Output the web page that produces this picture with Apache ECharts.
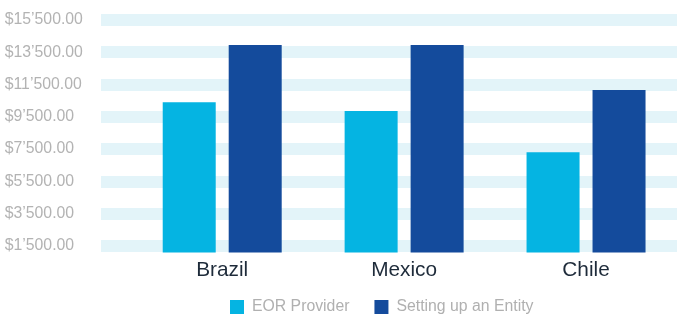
<!DOCTYPE html>
<html>
<head>
<meta charset="utf-8">
<script src="https://cdn.jsdelivr.net/npm/echarts@6/dist/echarts.min.js"></script>
<style>html,body{margin:0;padding:0;background:#fff}#c{width:677px;height:322px}</style>
</head>
<body>
<div id="c"></div>
<script>
const categories = ['Brazil', 'Mexico', 'Chile'];
const seriesNames = ['EOR Provider', 'Setting up an Entity'];
const eorValues = [10400, 9850, 7300];
const entityValues = [13950, 13950, 11150];
const tickValues = [1500, 3500, 5500, 7500, 9500, 11500, 13500, 15500];

const FONT = '"Liberation Sans", Arial, Helvetica, sans-serif';
function fmt(v) {
  const s = String(Math.round(v));
  const th = s.length > 3 ? s.slice(0, s.length - 3) + '\u2019' + s.slice(-3) : s;
  return '$' + th + '.00';
}

const chart = echarts.init(document.getElementById('c'), null, {renderer: 'canvas'});
chart.setOption({
  animation: false,
  textStyle: {fontFamily: FONT},
  grid: [
    {left: 131.25, right: -1.75, top: 19.85, bottom: 69.6},
    {left: 101, right: 0, top: 19.85, bottom: 43.75}
  ],
  legend: {
    data: seriesNames,
    left: 225,
    top: 294,
    itemWidth: 14,
    itemHeight: 14,
    itemGap: 25,
    icon: 'rect',
    textStyle: {color: '#b0b0b0', fontSize: 15.8, fontFamily: FONT, padding: [0, 0, 0, 3]}
  },
  xAxis: [
    {
      type: 'category', gridIndex: 0, data: categories,
      axisLine: {show: false}, axisTick: {show: false},
      axisLabel: {color: '#1e2b3a', fontSize: 20.8, lineHeight: 21, margin: 7, fontFamily: FONT}
    },
    {type: 'value', gridIndex: 1, min: 0, max: 1, show: false}
  ],
  yAxis: [
    {
      type: 'value', gridIndex: 0, min: 1100, max: 15500,
      axisLine: {show: false}, axisTick: {show: false},
      axisLabel: {show: false}, splitLine: {show: false}
    },
    {
      type: 'value', gridIndex: 1, min: -500, max: 15500, interval: 2000,
      axisLine: {show: false}, axisTick: {show: false},
      axisLabel: {
        color: '#b3b3b3', fontSize: 15.8, fontFamily: FONT, align: 'left', margin: 96.3,
        showMinLabel: false, formatter: fmt
      },
      splitLine: {show: true, showMinLine: false, lineStyle: {color: '#e3f4f9', width: 12}}
    }
  ],
  series: [
    {
      name: seriesNames[0], type: 'bar', xAxisIndex: 0, yAxisIndex: 0,
      data: eorValues, barWidth: 53, barGap: '24.5%',
      itemStyle: {color: '#05b4e2'}, z: 3
    },
    {
      name: seriesNames[1], type: 'bar', xAxisIndex: 0, yAxisIndex: 0,
      data: entityValues, barWidth: 53, barGap: '24.5%',
      itemStyle: {color: '#144b9c'}, z: 3
    }
  ]
});
</script>
</body>
</html>
